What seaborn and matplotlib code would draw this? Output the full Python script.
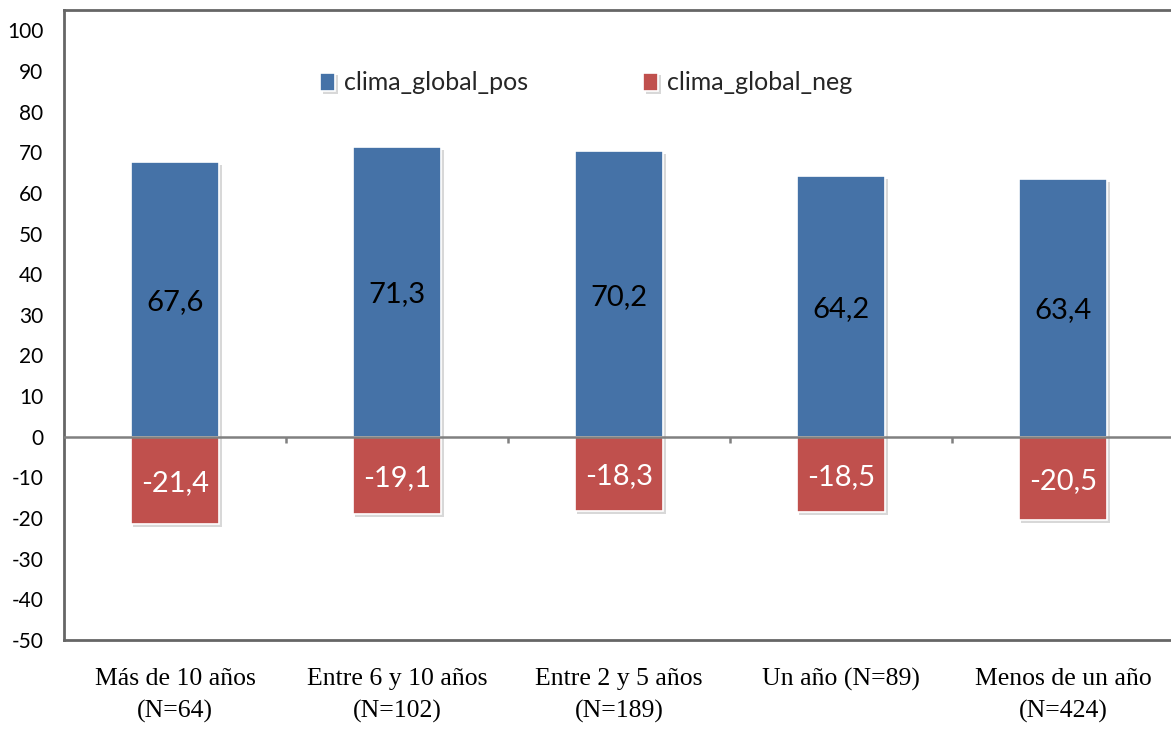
import matplotlib
matplotlib.use("Agg")
import matplotlib.pyplot as plt
import matplotlib.patheffects as pe
import seaborn as sns
import pandas as pd

categorias = ["Más de 10 años\n(N=64)", "Entre 6 y 10 años\n(N=102)", "Entre 2 y 5 años\n(N=189)",
              "Un año (N=89)", "Menos de un año\n(N=424)"]
clima_global_pos = [67.6, 71.3, 70.2, 64.2, 63.4]
clima_global_neg = [-21.4, -19.1, -18.3, -18.5, -20.5]
y_ticks = list(range(-50, 101, 10))

COLOR_POS = "#4572A7"
COLOR_NEG = "#C0504D"

sns.set_theme(style="white")
plt.rcParams["font.family"] = ["Lato", "DejaVu Sans"]

df = pd.DataFrame({"categoria": categorias, "pos": clima_global_pos, "neg": clima_global_neg})

fig = plt.figure(figsize=(11.71, 7.31), dpi=100)
ax = fig.add_axes([64 / 1171, 1 - 640 / 731, 1110 / 1171, 630 / 731])

shadow = [pe.SimplePatchShadow(offset=(2, -2), shadow_rgbFace="#808080", alpha=0.3), pe.Normal()]

sns.barplot(data=df, x="categoria", y="pos", color=COLOR_POS, saturation=1, width=0.4,
            edgecolor="white", linewidth=1.2, ax=ax, label="clima_global_pos")
sns.barplot(data=df, x="categoria", y="neg", color=COLOR_NEG, saturation=1, width=0.4,
            edgecolor="white", linewidth=1.2, ax=ax, label="clima_global_neg")
for p in ax.patches:
    p.set_path_effects(shadow)

# value labels inside the bars
for i, (vp, vn) in enumerate(zip(clima_global_pos, clima_global_neg)):
    ax.text(i, vp / 2, f"{vp:.1f}".replace(".", ","), ha="center", va="center_baseline",
            fontsize=21, color="black")
    ax.text(i, vn / 2, f"{vn:.1f}".replace(".", ","), ha="center", va="center_baseline",
            fontsize=21, color="white")

ax.set_xlim(-0.5, len(categorias) - 0.5)
ax.set_ylim(-50, 105)
ax.set_yticks(y_ticks)
ax.set_yticklabels([str(v) for v in y_ticks], fontsize=15, color="black")
ax.set_xticks(range(len(categorias)))
ax.set_xticklabels(categorias, fontsize=18.5, color="black", family="Liberation Serif",
                   linespacing=1.6)
ax.tick_params(axis="y", length=0, pad=15)
ax.tick_params(axis="x", length=0, pad=20)
ax.set_xlabel("")
ax.set_ylabel("")

# zero line with category-boundary ticks
ax.axhline(0, color="#808080", linewidth=1.8, zorder=3)
ax.vlines([k + 0.5 for k in range(len(categorias) - 1)], -1.6, 0, color="#808080",
          linewidth=1.8, zorder=3)

for side in ["left", "top", "bottom", "right"]:
    ax.spines[side].set_color("#666666")
    ax.spines[side].set_linewidth(2)

leg = ax.legend(loc="center left", bbox_to_anchor=(256 / 1110, (640 - 83) / 630), ncol=2,
                frameon=False, fontsize=18, handlelength=0.6, handleheight=0.75,
                handletextpad=0.35, columnspacing=4.6, borderaxespad=0, borderpad=0)

fig.savefig("out.png", dpi=100)
